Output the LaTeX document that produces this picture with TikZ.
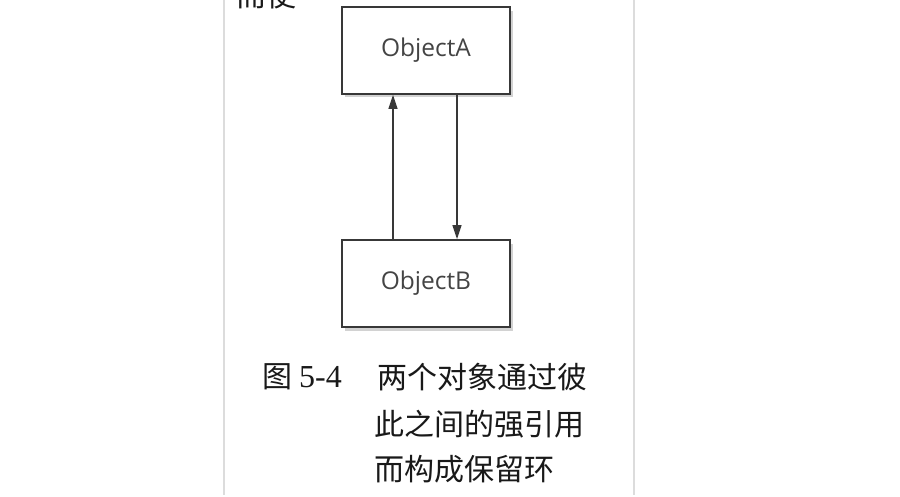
\documentclass[tikz,border=0pt]{standalone}
\usepackage{fontspec}
\setmainfont{Liberation Serif}
\newfontfamily\cjk{Noto Sans CJK SC}
\newfontfamily\boxfont{Open Sans}
\usetikzlibrary{arrows.meta}
\definecolor{edgegray}{HTML}{383838}
\definecolor{textgray}{HTML}{444444}
\definecolor{rulegray}{HTML}{DCDCDC}
\tikzset{
  objbox/.style={draw=edgegray, line width=1.8pt, fill=white, minimum width=168pt, minimum height=87pt, inner sep=0pt, font=\boxfont\fontsize{24.5}{28}\selectfont, text=textgray},
  shadowbox/.style={fill=black!35, opacity=0.5, draw=none},
  link/.style={draw=edgegray, line width=1.5pt, -{Triangle[length=14pt,width=9pt]}},
  rulel/.style={draw=rulegray, line width=1.8pt},
  captxt/.style={anchor=west, inner sep=0pt, font=\cjk\fontsize{30}{32}\selectfont, text=black!90},
}
\begin{document}
\begin{tikzpicture}[x=1pt,y=-1pt]
\fill[white] (0,0) rectangle (900,497);
\useasboundingbox (0,0) rectangle (900,497);
\clip (0,0) rectangle (900,497);
% page rules
\coordinate (l1) at (224,0); \coordinate (l2) at (224,495);
\coordinate (r1) at (634,0); \coordinate (r2) at (634,495);
\draw[rulel] (l1) -- (l2);
\draw[rulel] (r1) -- (r2);
% clipped text at top
\node[captxt] (top) at (236,-5) {而使};
% shadows
\fill[shadowbox] (345,11) rectangle (513,97);
\fill[shadowbox] (345,244) rectangle (513,331);
% boxes
\node[objbox] (A) at (426,50.5) {ObjectA};
\node[objbox] (B) at (426,283.5) {ObjectB};
% connectors
\draw[link] ([xshift=-33pt]B.north) -- ([xshift=-33pt]A.south);
\draw[link] ([xshift=31pt]A.south) -- ([xshift=31pt]B.north);
% caption
\node[captxt] (fig) at (262,377) {图\hspace{7pt}{\rmfamily\fontsize{32}{32}\selectfont 5-4}};
\node[captxt] (c1) at (377,377) {两个对象通过彼};
\node[captxt] (c2) at (374,424) {此之间的强引用};
\node[captxt] (c3) at (374,469) {而构成保留环};
\end{tikzpicture}
\end{document}
